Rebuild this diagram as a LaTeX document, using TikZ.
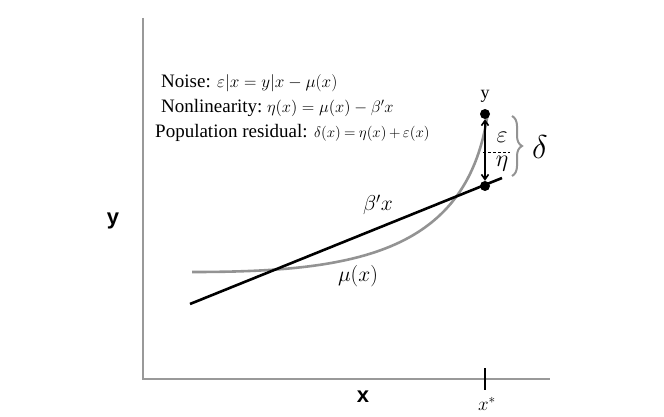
\RequirePackage{fix-cm}
\documentclass[tikz,border=0pt]{standalone}
\usepackage{fontspec}
\setmainfont{Liberation Serif}
\newfontfamily\axfont{Liberation Sans}
\usetikzlibrary{decorations.pathreplacing,arrows.meta}
\newcommand{\mathsz}[2]{{\fontsize{#1}{#1}\selectfont$#2$}}
\begin{document}
\begin{tikzpicture}[x=1pt,y=-1pt,
  axisline/.style={draw=gray!80,line width=1.8pt},
  fitline/.style={draw=black,line width=2.6pt},
  curveline/.style={draw=gray!85,line width=2.6pt},
  dotnode/.style={circle,fill=black,inner sep=0pt,minimum size=10pt},
  axlabel/.style={font=\axfont\bfseries\fontsize{22}{26}\selectfont},
  eqtext/.style={anchor=west,font=\fontsize{19}{20}\selectfont,inner sep=0pt},
  mathlabel/.style={font=\fontsize{21.5}{24}\selectfont}]
\useasboundingbox (0,0) rectangle (664,417);
% axes
\coordinate (top) at (143,18);
\coordinate (origin) at (143,379);
\coordinate (right) at (550,379);
\draw[axisline] (top) -- (origin) -- (right);
% tick
\coordinate (tickA) at (485,368);
\coordinate (tickB) at (485,390);
\draw[line width=1.5pt] (tickA) -- (tickB);
\node (xstar) at (487,404) {\fontsize{19}{22}\selectfont$x^*$};
\node[axlabel] (xlab) at (363,397) {x};
\node[axlabel] (ylab) at (113,221) {y};
% curve mu(x)
\coordinate (cs) at (192,272);
\coordinate (ce) at (487,118);
\draw[curveline] (cs) .. controls (350,272) and (465,255) .. (ce);
% line beta'x
\coordinate (ls) at (190,304);
\coordinate (le) at (502,178);
\draw[fitline] (ls) -- (le);
% dots
\node[dotnode] (ydot) at (485,114) {};
\node[dotnode] (fdot) at (485,186) {};
\node (ytxt) at (485,96) {\fontsize{18}{20}\selectfont y};
\draw[line width=1.6pt,{Straight Barb[length=5pt,width=7pt]}-{Straight Barb[length=5pt,width=7pt]}] (ydot) -- (fdot);
% dashed midpoint
\coordinate (mA) at (483,152);
\coordinate (mB) at (510,152);
\draw[densely dashed,line width=0.8pt] (mA) -- (mB);
\node[font=\fontsize{24}{26}\selectfont] (eps) at (502,137) {$\varepsilon$};
\node[font=\fontsize{24}{26}\selectfont] (eta) at (502,164) {$\eta$};
% brace
\coordinate (bA) at (512,116);
\coordinate (bB) at (512,176);
\draw[gray!85,line width=2pt,decorate,decoration={brace,amplitude=10pt}] (bA) -- (bB);
\node[font=\fontsize{33}{36}\selectfont] (delta) at (540,147) {$\delta$};
% labels
\node[mathlabel] (beta) at (378,205) {$\beta' x$};
\node[mathlabel] (mu) at (358,276) {$\mu(x)$};
% equations
\node[eqtext] (eq1) at (161,83) {Noise: \mathsz{17.2}{\varepsilon|x = y|x - \mu(x)}};
\node[eqtext] (eq2) at (161,108) {Nonlinearity:\mathsz{16.5}{\;\eta(x) = \mu(x) - \beta' x}};
\node[eqtext] (eq3) at (155,133) {Population residual: \mathsz{15}{\thickmuskip=4mu\medmuskip=3mu\delta(x) = \eta(x) + \varepsilon(x)}};
\end{tikzpicture}
\end{document}
